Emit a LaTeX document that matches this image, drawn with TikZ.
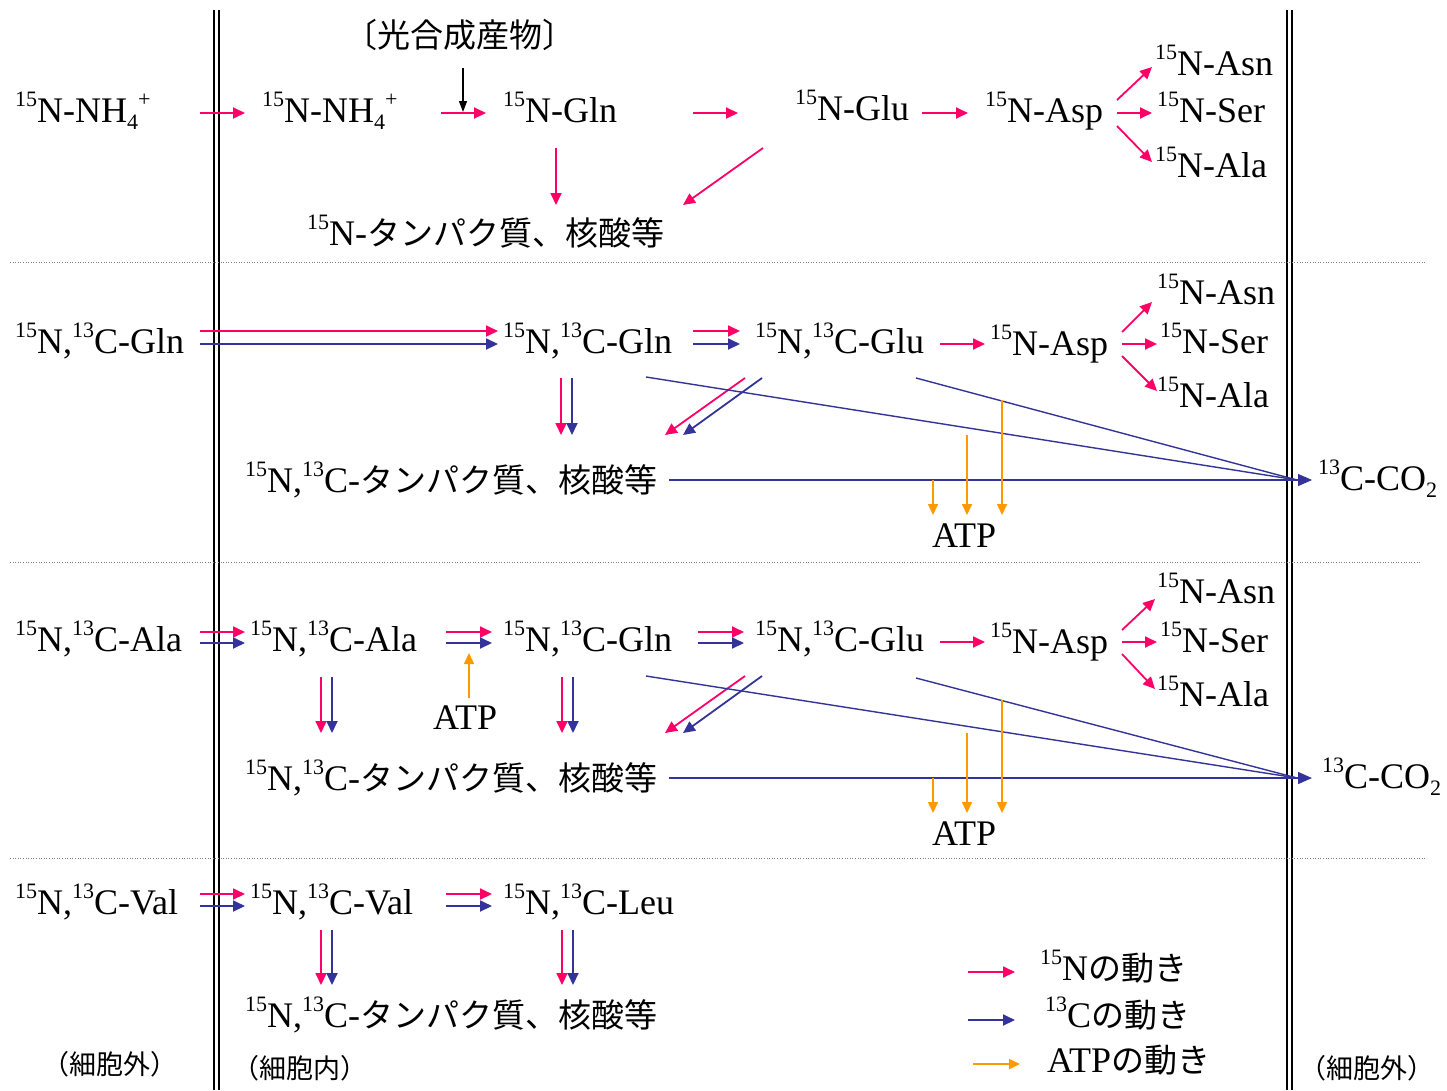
\documentclass[tikz,border=0pt]{standalone}
\usepackage{fontspec}
\setmainfont{Liberation Serif}
\newfontfamily\jp{Noto Sans CJK JP}
\usetikzlibrary{arrows.meta}
\definecolor{nP}{HTML}{FF0066}
\definecolor{cB}{HTML}{333399}
\definecolor{aO}{HTML}{FF9900}
\newcommand\up[1]{\raisebox{0.42em}{\fontsize{22}{22}\selectfont #1}}
\newcommand\dn[1]{\raisebox{-0.22em}{\fontsize{22}{22}\selectfont #1}}
\newcommand\J[1]{{\jp\fontsize{33}{36}\selectfont #1}}
\newcommand\NC{\up{15}N,\up{13}C-}
\tikzset{
  lbl/.style={anchor=base west, inner sep=0pt, font=\fontsize{36}{40}\selectfont},
  side/.style={anchor=center, inner sep=0pt, font=\jp\fontsize{27}{30}\selectfont},
  pa/.style={draw=nP, line width=1.8pt, -{Triangle[length=12pt,width=11pt]}},
  ba/.style={draw=cB, line width=1.8pt, -{Triangle[length=12pt,width=11pt]}},
  oa/.style={draw=aO, line width=1.6pt, -{Triangle[length=11pt,width=10pt]}},
  bl/.style={draw=cB, line width=1.4pt},
  cba/.style={draw=cB, line width=1.4pt, -{Triangle[length=14pt,width=12pt]}},
  ka/.style={draw=black, line width=1.4pt, -{Triangle[length=11pt,width=8pt]}},
  wall/.style={draw=black, line width=1.3pt},
  sep/.style={draw=gray, line width=0.6pt, dotted}
}
\begin{document}
\begin{tikzpicture}[x=1pt,y=-1pt]
\useasboundingbox (0,0) rectangle (1447,1090);
% walls
\coordinate (wl1t) at (214,10); \coordinate (wl1b) at (214,1090);
\coordinate (wl2t) at (219,10); \coordinate (wl2b) at (219,1090);
\coordinate (wr1t) at (1287,10); \coordinate (wr1b) at (1287,1090);
\coordinate (wr2t) at (1292,10); \coordinate (wr2b) at (1292,1090);
\draw[wall] (wl1t) -- (wl1b); \draw[wall] (wl2t) -- (wl2b);
\draw[wall] (wr1t) -- (wr1b); \draw[wall] (wr2t) -- (wr2b);
% separators
\coordinate (s1a) at (10,262); \coordinate (s1b) at (1425,262);
\coordinate (s2a) at (10,562); \coordinate (s2b) at (1420,562);
\coordinate (s3a) at (10,858); \coordinate (s3b) at (1425,858);
\draw[sep] (s1a) -- (s1b); \draw[sep] (s2a) -- (s2b); \draw[sep] (s3a) -- (s3b);

% ===== Row 1 =====
\node[lbl] (t11) at (15,122) {\up{15}N-NH\dn{4}\up{+}};
\node[lbl] (t12) at (262,122) {\up{15}N-NH\dn{4}\up{+}};
\node[lbl] (t13) at (503,122) {\up{15}N-Gln};
\node[lbl] (t14) at (795,120) {\up{15}N-Glu};
\node[lbl] (t15) at (985,122) {\up{15}N-Asp};
\node[lbl] (t16) at (1155,75) {\up{15}N-Asn};
\node[lbl] (t17) at (1157,122) {\up{15}N-Ser};
\node[lbl] (t18) at (1155,177) {\up{15}N-Ala};
\node[lbl] (t19) at (307,245) {\up{15}N-\J{タンパク質、核酸等}};
\node[anchor=base, inner sep=0pt] (t10) at (460,47) {\J{〔光合成産物〕}};
\coordinate (k1s) at (463,68); \coordinate (k1e) at (463,112);
\coordinate (a1s) at (200,113); \coordinate (a1e) at (245,113);
\coordinate (a2s) at (441,113); \coordinate (a2e) at (486,113);
\coordinate (a3s) at (693,113); \coordinate (a3e) at (738,113);
\coordinate (a4s) at (922,113); \coordinate (a4e) at (968,113);
\coordinate (a5s) at (1117,100); \coordinate (a5e) at (1152,67);
\coordinate (a6s) at (1117,113); \coordinate (a6e) at (1152,113);
\coordinate (a7s) at (1117,126); \coordinate (a7e) at (1152,162);
\coordinate (a8s) at (556,148); \coordinate (a8e) at (556,205);
\coordinate (a9s) at (763,148); \coordinate (a9e) at (683,205);
\draw[pa] (a1s) -- (a1e);
\draw[pa] (a2s) -- (a2e);
\draw[ka] (k1s) -- (k1e);
\draw[pa] (a3s) -- (a3e);
\draw[pa] (a4s) -- (a4e);
\draw[pa] (a5s) -- (a5e);
\draw[pa] (a6s) -- (a6e);
\draw[pa] (a7s) -- (a7e);
\draw[pa] (a8s) -- (a8e);
\draw[pa] (a9s) -- (a9e);

% ===== Row 2 =====
\node[lbl] (t21) at (15,353) {\NC Gln};
\node[lbl] (t22) at (503,353) {\NC Gln};
\node[lbl] (t23) at (755,353) {\NC Glu};
\node[lbl] (t24) at (990,355) {\up{15}N-Asp};
\node[lbl] (t25) at (1157,304) {\up{15}N-Asn};
\node[lbl] (t26) at (1160,353) {\up{15}N-Ser};
\node[lbl] (t27) at (1157,407) {\up{15}N-Ala};
\node[lbl] (t28) at (245,492) {\NC\J{タンパク質、核酸等}};
\node[lbl] (t29) at (1318,490) {\up{13}C-CO\dn{2}};
\node[lbl] (t2a) at (932,547) {ATP};
\coordinate (b1s) at (200,331); \coordinate (b1e) at (498,331);
\coordinate (b2s) at (200,344); \coordinate (b2e) at (498,344);
\coordinate (b3s) at (693,331); \coordinate (b3e) at (740,331);
\coordinate (b4s) at (693,344); \coordinate (b4e) at (740,344);
\coordinate (b5s) at (940,344); \coordinate (b5e) at (985,344);
\coordinate (b6s) at (1122,332); \coordinate (b6e) at (1152,302);
\coordinate (b7s) at (1122,344); \coordinate (b7e) at (1157,344);
\coordinate (b8s) at (1122,356); \coordinate (b8e) at (1157,391);
\coordinate (b9s) at (561,378); \coordinate (b9e) at (561,435);
\coordinate (b10s) at (572,378); \coordinate (b10e) at (572,435);
\coordinate (b11s) at (745,378); \coordinate (b11e) at (665,435);
\coordinate (b12s) at (762,378); \coordinate (b12e) at (683,435);
\coordinate (bcv) at (1297,480);
\coordinate (b13s) at (646,377);
\coordinate (b14s) at (916,378);
\coordinate (b15s) at (669,480); \coordinate (b15e) at (1312,480);
\coordinate (o1s) at (933,480); \coordinate (o1e) at (933,515);
\coordinate (o2s) at (967,435); \coordinate (o2e) at (967,515);
\coordinate (o3s) at (1002,400); \coordinate (o3e) at (1002,515);
\draw[pa] (b1s) -- (b1e);
\draw[ba] (b2s) -- (b2e);
\draw[pa] (b3s) -- (b3e);
\draw[ba] (b4s) -- (b4e);
\draw[pa] (b5s) -- (b5e);
\draw[pa] (b6s) -- (b6e);
\draw[pa] (b7s) -- (b7e);
\draw[pa] (b8s) -- (b8e);
\draw[pa] (b9s) -- (b9e);
\draw[ba] (b10s) -- (b10e);
\draw[pa] (b11s) -- (b11e);
\draw[ba] (b12s) -- (b12e);
\draw[bl] (b13s) -- (bcv);
\draw[bl] (b14s) -- (bcv);
\draw[cba] (b15s) -- (b15e);
\draw[oa] (o1s) -- (o1e);
\draw[oa] (o2s) -- (o2e);
\draw[oa] (o3s) -- (o3e);

% ===== Row 3 =====
\node[lbl] (t31) at (15,651) {\NC Ala};
\node[lbl] (t32) at (250,651) {\NC Ala};
\node[lbl] (t33) at (503,651) {\NC Gln};
\node[lbl] (t34) at (755,651) {\NC Glu};
\node[lbl] (t35) at (990,653) {\up{15}N-Asp};
\node[lbl] (t36) at (1157,603) {\up{15}N-Asn};
\node[lbl] (t37) at (1160,652) {\up{15}N-Ser};
\node[lbl] (t38) at (1157,706) {\up{15}N-Ala};
\node[lbl] (t39) at (245,790) {\NC\J{タンパク質、核酸等}};
\node[lbl] (t3c) at (1322,788) {\up{13}C-CO\dn{2}};
\node[lbl] (t3a) at (932,845) {ATP};
\node[lbl] (t3b) at (433,729) {ATP};
\coordinate (c1s) at (200,632); \coordinate (c1e) at (245,632);
\coordinate (c2s) at (200,643); \coordinate (c2e) at (245,643);
\coordinate (c3s) at (446,632); \coordinate (c3e) at (492,632);
\coordinate (c4s) at (446,643); \coordinate (c4e) at (492,643);
\coordinate (c5s) at (698,632); \coordinate (c5e) at (744,632);
\coordinate (c6s) at (698,643); \coordinate (c6e) at (744,643);
\coordinate (c7s) at (940,642); \coordinate (c7e) at (985,642);
\coordinate (c8s) at (1122,630); \coordinate (c8e) at (1155,599);
\coordinate (c9s) at (1122,642); \coordinate (c9e) at (1157,642);
\coordinate (c10s) at (1122,654); \coordinate (c10e) at (1155,689);
\coordinate (c11s) at (321,677); \coordinate (c11e) at (321,733);
\coordinate (c12s) at (332,677); \coordinate (c12e) at (332,733);
\coordinate (c13s) at (562,677); \coordinate (c13e) at (562,733);
\coordinate (c14s) at (573,677); \coordinate (c14e) at (573,733);
\coordinate (c15s) at (745,676); \coordinate (c15e) at (665,733);
\coordinate (c16s) at (762,676); \coordinate (c16e) at (683,733);
\coordinate (ccv) at (1297,778);
\coordinate (c17s) at (646,676);
\coordinate (c18s) at (916,678);
\coordinate (c19s) at (669,778); \coordinate (c19e) at (1312,778);
\coordinate (p0s) at (469,698); \coordinate (p0e) at (469,653);
\coordinate (p1s) at (933,778); \coordinate (p1e) at (933,813);
\coordinate (p2s) at (967,733); \coordinate (p2e) at (967,813);
\coordinate (p3s) at (1002,700); \coordinate (p3e) at (1002,813);
\draw[pa] (c1s) -- (c1e);
\draw[ba] (c2s) -- (c2e);
\draw[pa] (c3s) -- (c3e);
\draw[ba] (c4s) -- (c4e);
\draw[oa] (p0s) -- (p0e);
\draw[pa] (c5s) -- (c5e);
\draw[ba] (c6s) -- (c6e);
\draw[pa] (c7s) -- (c7e);
\draw[pa] (c8s) -- (c8e);
\draw[pa] (c9s) -- (c9e);
\draw[pa] (c10s) -- (c10e);
\draw[pa] (c11s) -- (c11e);
\draw[ba] (c12s) -- (c12e);
\draw[pa] (c13s) -- (c13e);
\draw[ba] (c14s) -- (c14e);
\draw[pa] (c15s) -- (c15e);
\draw[ba] (c16s) -- (c16e);
\draw[bl] (c17s) -- (ccv);
\draw[bl] (c18s) -- (ccv);
\draw[cba] (c19s) -- (c19e);
\draw[oa] (p1s) -- (p1e);
\draw[oa] (p2s) -- (p2e);
\draw[oa] (p3s) -- (p3e);

% ===== Row 4 =====
\node[lbl] (t41) at (15,914) {\NC Val};
\node[lbl] (t42) at (250,914) {\NC Val};
\node[lbl] (t43) at (503,914) {\NC Leu};
\node[lbl] (t44) at (245,1027) {\NC\J{タンパク質、核酸等}};
\coordinate (d1s) at (200,894); \coordinate (d1e) at (245,894);
\coordinate (d2s) at (200,906); \coordinate (d2e) at (245,906);
\coordinate (d3s) at (446,894); \coordinate (d3e) at (492,894);
\coordinate (d4s) at (446,906); \coordinate (d4e) at (492,906);
\coordinate (d5s) at (321,930); \coordinate (d5e) at (321,985);
\coordinate (d6s) at (332,930); \coordinate (d6e) at (332,985);
\coordinate (d7s) at (562,930); \coordinate (d7e) at (562,985);
\coordinate (d8s) at (573,930); \coordinate (d8e) at (573,985);
\draw[pa] (d1s) -- (d1e);
\draw[ba] (d2s) -- (d2e);
\draw[pa] (d3s) -- (d3e);
\draw[ba] (d4s) -- (d4e);
\draw[pa] (d5s) -- (d5e);
\draw[ba] (d6s) -- (d6e);
\draw[pa] (d7s) -- (d7e);
\draw[ba] (d8s) -- (d8e);

% side labels
\node[side] (g1) at (110,1064) {（細胞外）};
\node[side] (g2) at (300,1068) {（細胞内）};
\node[side] (g3) at (1367,1068) {（細胞外）};

% legend
\coordinate (l1s) at (968,972); \coordinate (l1e) at (1015,972);
\coordinate (l2s) at (968,1020); \coordinate (l2e) at (1015,1020);
\coordinate (l3s) at (973,1064); \coordinate (l3e) at (1020,1064);
\draw[pa] (l1s) -- (l1e);
\draw[ba] (l2s) -- (l2e);
\draw[oa] (l3s) -- (l3e);
\node[lbl] (lg1) at (1040,980) {\up{15}N\J{の動き}};
\node[lbl] (lg2) at (1045,1027) {\up{13}C\J{の動き}};
\node[lbl] (lg3) at (1047,1072) {ATP\J{の動き}};
\end{tikzpicture}
\end{document}
